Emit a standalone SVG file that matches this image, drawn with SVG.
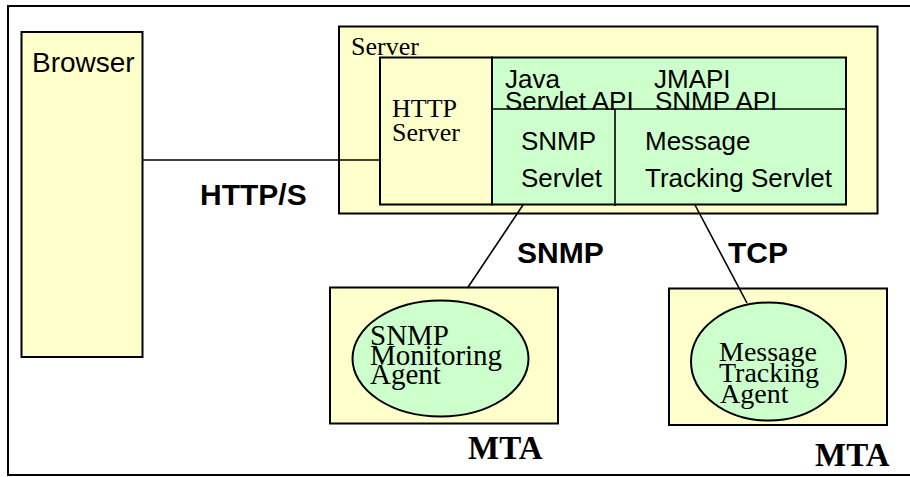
<svg xmlns="http://www.w3.org/2000/svg" width="910" height="477" viewBox="0 0 910 477">
  <style>
    .box { fill: #FFFFCC; stroke: #000; stroke-width: 2; }
    .grn { fill: #CCFFCC; stroke: #000; stroke-width: 2; }
    .ln { fill: none; stroke: #000; stroke-width: 1.6; }
    .sans { font-family: "Liberation Sans", Arial, sans-serif; fill: #000; }
    .serif { font-family: "Liberation Serif", "Times New Roman", serif; fill: #000; }
    .lbl { font-family: "Liberation Sans", Arial, sans-serif; font-weight: bold; font-size: 30px; fill: #000; }
    .mta { font-family: "Liberation Serif", "Times New Roman", serif; font-weight: bold; font-size: 33px; fill: #000; }
  </style>

  <rect x="0" y="0" width="910" height="477" fill="#fff"/>
  <!-- outer frame (right side runs off the page) -->
  <rect x="8" y="6" width="930" height="469" fill="none" stroke="#000" stroke-width="2"/>

  <g id="browser">
    <rect class="box" x="21.5" y="32" width="121" height="325"/>
    <text class="sans" x="32" y="72" font-size="28">Browser</text>
  </g>

  <g id="server">
    <rect class="box" x="339" y="26.5" width="538.5" height="187"/>
    <text class="serif" x="351" y="55" font-size="26">Server</text>
  </g>

  <g id="http-server">
    <rect class="box" x="380" y="57.5" width="112" height="147"/>
    <text class="serif" x="392" y="117" font-size="26">HTTP</text>
    <text class="serif" x="392" y="141" font-size="26">Server</text>
  </g>

  <g id="servlet-api">
    <rect class="grn" x="492" y="57.5" width="354" height="147"/>
    <text class="sans" x="505" y="88" font-size="26">Java</text>
    <text class="sans" x="505" y="110" font-size="26">Servlet API</text>
    <text class="sans" x="654" y="88" font-size="26">JMAPI</text>
    <text class="sans" x="655" y="110" font-size="26">SNMP API</text>
    <line class="ln" x1="492" y1="109" x2="846" y2="109"/>
  </g>

  <g id="snmp-servlet">
    <text class="sans" x="521" y="150" font-size="26">SNMP</text>
    <text class="sans" x="521" y="187" font-size="26">Servlet</text>
  </g>

  <g id="tracking-servlet">
    <line class="ln" x1="615" y1="109" x2="615" y2="206"/>
    <text class="sans" x="645" y="150" font-size="26">Message</text>
    <text class="sans" x="645" y="187" font-size="26">Tracking Servlet</text>
  </g>

  <g id="mta-snmp">
    <rect class="box" x="330" y="287.5" width="228" height="136"/>
    <ellipse class="grn" cx="440.5" cy="358.5" rx="88" ry="58"/>
    <text class="serif" x="370" y="345" font-size="29">SNMP</text>
    <text class="serif" x="370" y="364.5" font-size="29">Monitoring</text>
    <text class="serif" x="370" y="384" font-size="29">Agent</text>
    <text class="mta" x="468" y="459">MTA</text>
  </g>

  <g id="mta-tracking">
    <rect class="box" x="669" y="288.5" width="218" height="136.5"/>
    <ellipse class="grn" cx="768.5" cy="361.5" rx="77.5" ry="59"/>
    <text class="serif" x="719" y="361" font-size="28">Message</text>
    <text class="serif" x="719" y="382" font-size="28">Tracking</text>
    <text class="serif" x="720" y="402.5" font-size="28">Agent</text>
    <text class="mta" x="815" y="466">MTA</text>
  </g>

  <g id="connectors">
    <line class="ln" x1="142.5" y1="160" x2="380" y2="160"/>
    <line class="ln" x1="523" y1="205" x2="467.5" y2="288"/>
    <line class="ln" x1="695" y1="205" x2="747" y2="303"/>
    <text class="lbl" x="200" y="205">HTTP/S</text>
    <text class="lbl" x="517" y="263">SNMP</text>
    <text class="lbl" x="728" y="263">TCP</text>
  </g>
</svg>
